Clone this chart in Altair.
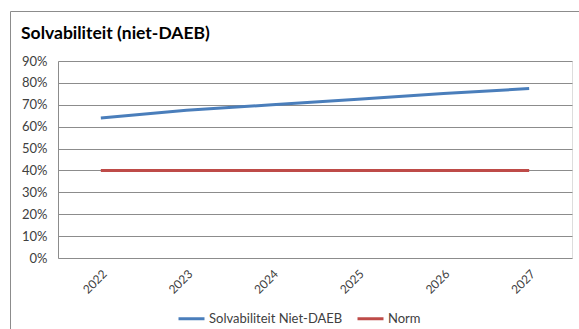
import altair as alt
import pandas as pd

# Solvency ratio (non-DAEB) versus the norm, 2022-2027
years = ["2022", "2023", "2024", "2025", "2026", "2027"]
solvabiliteit = [0.64, 0.675, 0.70, 0.725, 0.752, 0.774]
norm = [0.40, 0.40, 0.40, 0.40, 0.40, 0.40]

series_names = ["Solvabiliteit Niet-DAEB", "Norm"]
series_colors = ["#4a7ebb", "#be4b48"]

rows = []
for name, values in zip(series_names, [solvabiliteit, norm]):
    for y, v in zip(years, values):
        rows.append({"jaar": y, "waarde": v, "reeks": name})
df = pd.DataFrame(rows)

FONT = "Lato"

lines = alt.Chart(df).mark_line(strokeWidth=3).encode(
    x=alt.X(
        "jaar:N",
        sort=years,
        scale=alt.Scale(paddingInner=0, paddingOuter=0.5),
        axis=alt.Axis(
            title=None,
            labelAngle=-45,
            labelPadding=10,
            ticks=False,
            domain=False,
            grid=False,
            labelFontSize=12,
            labelColor="#404040",
        ),
    ),
    y=alt.Y(
        "waarde:Q",
        scale=alt.Scale(domain=[0, 0.9], nice=False),
        axis=alt.Axis(
            title=None,
            format=".0%",
            values=[i / 10 for i in range(10)],
            ticks=False,
            labelPadding=11,
            labelFontSize=13,
            labelColor="#404040",
            domainColor="#8c8c8c",
            gridColor="#8c8c8c",
        ),
    ),
    color=alt.Color(
        "reeks:N",
        scale=alt.Scale(domain=series_names, range=series_colors),
        legend=alt.Legend(
            title=None,
            orient="none",
            direction="horizontal",
            legendX=119,
            legendY=243,
            symbolType="stroke",
            symbolSize=676,
            symbolStrokeWidth=3,
            labelFontSize=13,
            labelColor="#404040",
            columnPadding=8,
            labelOffset=3,
        ),
    ),
)

# chart frame (left and top edges)
frame = alt.Chart(pd.DataFrame({"f": [0]})).mark_rect(
    fill=None, stroke="#8c8c8c", strokeWidth=1
).encode(
    x=alt.value(-47.5), x2=alt.value(560), y=alt.value(-49.5), y2=alt.value(320)
)

chart = (
    alt.layer(frame, lines)
    .properties(
        width=514,
        height=197,
        autosize=alt.AutoSizeParams(type="none"),
        padding={"left": 58, "top": 61, "right": 7, "bottom": 71},
        title=alt.Title(
            "Solvabiliteit (niet-DAEB)",
            anchor="start",
            fontSize=17.5,
            fontWeight="bold",
            color="#000000",
            offset=0,
            dx=11,
            dy=31,
        ),
    )
    .configure_view(stroke=None)
    .configure(font=FONT)
)

chart.save("out.html", embed_options={"renderer": "svg", "actions": False})
